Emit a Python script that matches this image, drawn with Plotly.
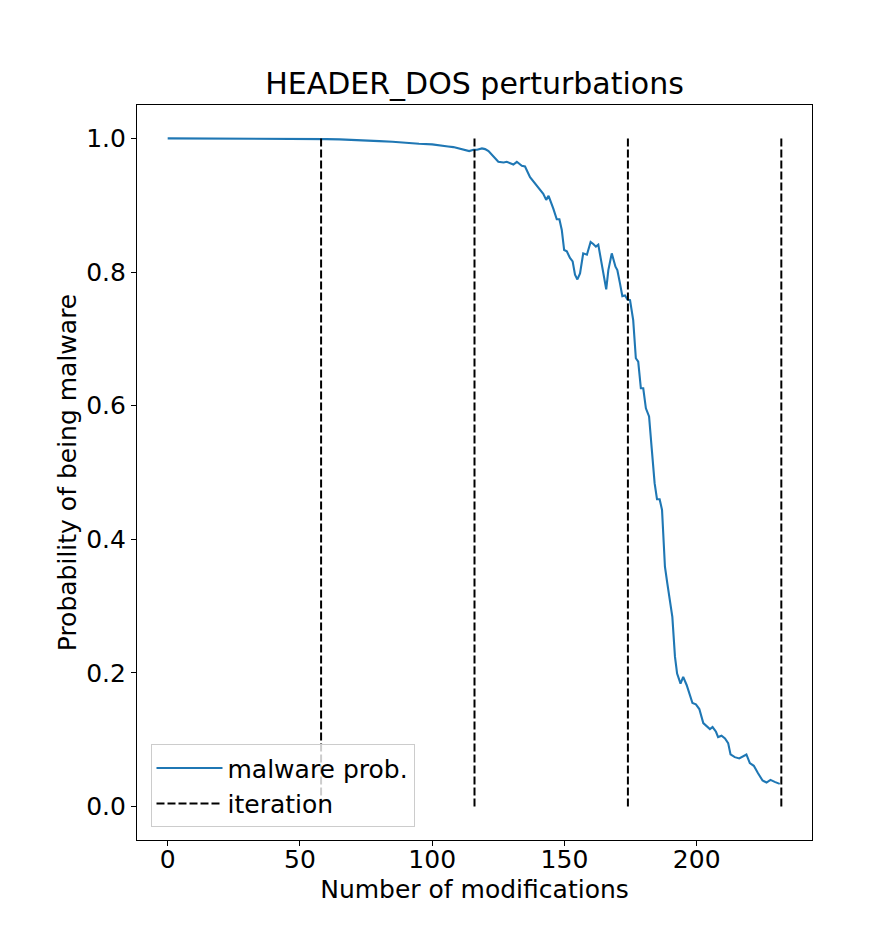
import plotly.graph_objects as go

# Read-off data (number of modifications -> probability of being malware)
mods = [0, 20, 40, 55, 60, 65, 70, 75, 80, 85, 90, 95, 100, 103, 106, 108, 110,
        112.5, 114, 115.6, 117, 118.8, 120, 121.3, 123, 125, 127, 128.2, 130.7,
        132, 133.9, 135.1, 137, 139.5, 141.4, 142, 143.1, 144, 145.8, 147.1,
        148.1, 149, 149.9, 150.9, 152.1, 153.1, 154, 154.9, 155.9, 157.1, 158.5,
        159.9, 160.9, 161.9, 162.8, 164.5, 165.8, 166.6, 167.9, 169.3, 170, 171,
        171.9, 172.9, 173.8, 174.8, 175.4, 176, 177, 177.9, 178.9, 179.8, 180.8,
        182, 183, 184.1, 185, 186, 186.9, 187.4, 188, 188.9, 189.9, 190.8, 191.8,
        192.6, 193.9, 194.9, 196.2, 197.4, 198.4, 199.7, 201, 202.5, 203.7, 205,
        206, 207.3, 208.1, 209.4, 210.7, 211.9, 212.8, 214.4, 216.1, 217.6, 218.8,
        220.1, 221.6, 223.2, 224.9, 226.4, 227.9, 229.5, 231.4]
prob = [1.000, 1.000, 1.000, 0.9995, 0.999, 0.9985, 0.998, 0.997, 0.996, 0.995,
        0.993, 0.992, 0.991, 0.990, 0.988, 0.987, 0.985, 0.982, 0.981, 0.983,
        0.983, 0.985, 0.984, 0.981, 0.973, 0.965, 0.964, 0.965, 0.961, 0.965,
        0.959, 0.958, 0.942, 0.929, 0.919, 0.917, 0.908, 0.914, 0.895, 0.879,
        0.879, 0.863, 0.833, 0.831, 0.821, 0.816, 0.796, 0.789, 0.798, 0.828,
        0.826, 0.845, 0.842, 0.838, 0.841, 0.803, 0.774, 0.803, 0.828, 0.808,
        0.803, 0.783, 0.764, 0.765, 0.759, 0.758, 0.741, 0.728, 0.671, 0.666,
        0.626, 0.626, 0.596, 0.584, 0.536, 0.484, 0.460, 0.460, 0.444, 0.399,
        0.359, 0.334, 0.309, 0.284, 0.224, 0.199, 0.184, 0.194, 0.182, 0.167,
        0.155, 0.153, 0.146, 0.125, 0.121, 0.116, 0.119, 0.112, 0.104, 0.106,
        0.102, 0.095, 0.078, 0.074, 0.072, 0.076, 0.078, 0.065, 0.061, 0.050,
        0.039, 0.036, 0.040, 0.037, 0.034]
iterations = [58, 116, 174, 232]
x_ticks = [0, 50, 100, 150, 200]
y_ticks = [0.0, 0.2, 0.4, 0.6, 0.8, 1.0]

FONT = "DejaVu Sans"
W, H = 862, 926  # page body has an 8px margin

fig = go.Figure()
fig.add_trace(go.Scatter(
    x=mods, y=prob, mode="lines", name="malware prob.",
    line=dict(color="#1f77b4", width=2.1),
))

vx, vy = [], []
for it in iterations:
    vx += [it, it, None]
    vy += [0, 1, None]
fig.add_trace(go.Scatter(
    x=vx, y=vy, mode="lines", name="iteration",
    line=dict(color="black", width=2, dash="8px,3px"),
))

axis_common = dict(
    showline=True, linecolor="black", linewidth=1.1, mirror=True,
    ticks="outside", ticklen=5, tickwidth=1.1, tickcolor="black",
    showgrid=False, zeroline=False,
    tickfont=dict(family=FONT, size=25, color="black"),
)

fig.update_layout(
    width=W, height=H,
    margin=dict(l=128.5, r=57.7, t=97, b=94),
    paper_bgcolor="white", plot_bgcolor="white",
    font=dict(family=FONT, size=25, color="black"),
    title=dict(text="HEADER_DOS perturbations", x=0.5, xref="paper",
               xanchor="center", y=1 - 75 / H, yref="container",
               yanchor="middle",
               font=dict(family=FONT, size=30, color="black")),
    xaxis=dict(range=[-11.6, 243.6], tickvals=x_ticks, ticklabelstandoff=-8,
               title=dict(text="Number of modifications", standoff=7,
                          font=dict(family=FONT, size=25, color="black")),
               **axis_common),
    yaxis=dict(range=[-0.05, 1.05], tickvals=y_ticks, tickformat=".1f",
               title=dict(text="Probability of being malware", standoff=2,
                          font=dict(family=FONT, size=25, color="black")),
               **axis_common),
    legend=dict(x=0.02, y=0.0173, xanchor="left", yanchor="bottom",
                itemwidth=66,
                bgcolor="rgba(255,255,255,0.8)", bordercolor="#cccccc",
                borderwidth=1, font=dict(family=FONT, size=25, color="black")),
    showlegend=True,
)

fig.write_html("out.html")
